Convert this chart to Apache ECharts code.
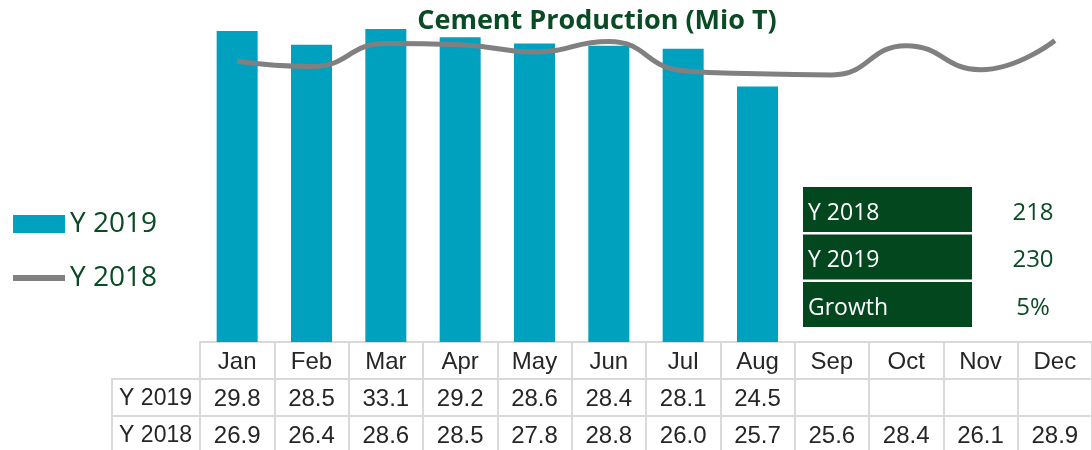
<!DOCTYPE html>
<html>
<head>
<meta charset="utf-8">
<script src="https://cdn.jsdelivr.net/npm/echarts@6/dist/echarts.min.js"></script>
<style>
  html, body { margin: 0; padding: 0; background: #fff; }
  #chart { width: 1092px; height: 450px; }
</style>
</head>
<body>
<div id="chart"></div>
<script>
// data
const months = ['Jan', 'Feb', 'Mar', 'Apr', 'May', 'Jun', 'Jul', 'Aug', 'Sep', 'Oct', 'Nov', 'Dec']
const y2019 = [29.8, 28.5, 33.1, 29.2, 28.6, 28.4, 28.1, 24.5]
const y2018 = [26.9, 26.4, 28.6, 28.5, 27.8, 28.8, 26.0, 25.7, 25.6, 28.4, 26.1, 28.9]
const rowNames = ['Y 2019', 'Y 2018']
const summaryLabels = ['Y 2018', 'Y 2019', 'Growth']
const summaryValues = ['218', '230', '5%']

const FONT = '"Open Sans", "Noto Sans", sans-serif'
const TABLE_FONT = '"Liberation Sans", Arial, sans-serif'
const GREEN = '#0a4a24'
const BOX = '#03471f'
const GRID_LINE = '#d9d9d9'
const ROW_H = 37
const TABLE_TOP = 342

const chart = echarts.init(document.getElementById('chart'))

// one category axis per table row, stacked under the plot with offset
const tableAxis = (offset, formatter) => ({
  type: 'category',
  gridIndex: 0,
  position: 'bottom',
  offset: offset,
  data: months,
  boundaryGap: true,
  axisLine: { show: true, lineStyle: { color: GRID_LINE, width: 2 } },
  axisTick: { show: true, interval: 0, length: ROW_H, lineStyle: { color: GRID_LINE, width: 2 } },
  axisLabel: {
    interval: 0, margin: 0, verticalAlign: 'top',
    lineHeight: 24, padding: [8, 0, 0, 0],
    fontFamily: TABLE_FONT, fontSize: 24, color: '#262626',
    formatter: formatter,
  },
  splitLine: { show: false },
})

const option = {
  animation: false,
  backgroundColor: '#fff',
  title: {
    text: 'Cement Production (Mio T)',
    left: 592, top: 3, textAlign: 'center',
    textStyle: { fontFamily: FONT, fontSize: 27, fontWeight: 'bold', color: GREEN },
  },
  legend: {
    orient: 'vertical',
    left: 13, top: 210, padding: 0,
    itemWidth: 52, itemHeight: 18, itemGap: 26,
    data: [
      { name: 'Y 2019', icon: 'rect' },
      { name: 'Y 2018', icon: 'path://M0,0 L52,0 L52,6 L0,6 Z' },
    ],
    textStyle: { fontFamily: FONT, fontSize: 28, color: GREEN, lineHeight: 28 },
  },
  grid: { left: 200, top: 29, width: 900, height: 313, containLabel: false },
  xAxis: [
    tableAxis(0, (v) => v),
    tableAxis(ROW_H, (v, i) => (i < y2019.length ? y2019[i].toFixed(1) : '')),
    tableAxis(ROW_H * 2, (v, i) => (i < y2018.length ? y2018[i].toFixed(1) : '')),
  ],
  yAxis: { type: 'value', min: 0, max: 30, show: false },
  series: [
    {
      name: 'Y 2019',
      type: 'bar',
      barWidth: 41,
      clip: true,
      itemStyle: { color: '#00a0bf' },
      data: y2019,
    },
    {
      name: 'Y 2018',
      type: 'line',
      smooth: true,
      symbol: 'none',
      lineStyle: { color: '#808080', width: 5 },
      itemStyle: { color: '#808080' },
      data: y2018,
    },
  ],
  graphic: [],
}

// row-label cells left of the table
rowNames.forEach((name, i) => {
  const y = TABLE_TOP + ROW_H * (i + 1)
  option.graphic.push({
    type: 'rect',
    shape: { x: 112, y: y, width: 88, height: ROW_H },
    style: { fill: 'none', stroke: GRID_LINE, lineWidth: 2 },
  })
  option.graphic.push({
    type: 'text',
    x: 192, y: y + ROW_H / 2 + 1,
    style: { text: name, fill: '#262626', font: '23px ' + TABLE_FONT, verticalAlign: 'middle', textAlign: 'right' },
  })
})

// summary box on the right
summaryLabels.forEach((label, i) => {
  const y = 187 + i * 47.5
  option.graphic.push({
    type: 'rect',
    shape: { x: 803, y: y, width: 169, height: 45 },
    style: { fill: BOX },
  })
  option.graphic.push({
    type: 'text',
    x: 808, y: y + 26,
    style: { text: label, fill: '#fff', font: '23px ' + FONT, verticalAlign: 'middle', textAlign: 'left' },
  })
  option.graphic.push({
    type: 'text',
    x: 1033, y: y + 26,
    style: { text: summaryValues[i], fill: GREEN, font: '24px ' + FONT, verticalAlign: 'middle', textAlign: 'center' },
  })
})

chart.setOption(option)
</script>
</body>
</html>
